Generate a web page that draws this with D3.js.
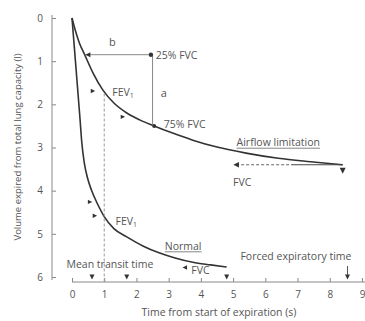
<!DOCTYPE html>
<html>
<head>
<meta charset="utf-8">
<script src="https://cdn.jsdelivr.net/npm/d3@7"></script>
<style>
  body { margin: 0; background: #fff; }
  svg text { font-family: "Open Sans", sans-serif; fill: #555; }
</style>
</head>
<body>
<div id="chart"></div>
<script>
// Axis ticks
const xTicks = [0, 1, 2, 3, 4, 5, 6, 7, 8, 9];
const yTicks = [0, 1, 2, 3, 4, 5, 6];

// Normal spirogram (time s, volume l)
const normalT = [0, 0.08, 0.16, 0.25, 0.3, 0.38, 0.48, 0.6, 0.8, 1.0, 1.3, 1.7, 2.2, 2.7, 3.2, 3.75, 4.3, 4.8];
const normalV = [0, 0.75, 1.5, 2.35, 2.85, 3.35, 3.7, 3.98, 4.32, 4.6, 4.88, 5.07, 5.28, 5.44, 5.56, 5.66, 5.72, 5.77];

// Airflow limitation spirogram
const airflowT = [0, 0.1, 0.22, 0.4, 0.65, 0.96, 1.3, 1.7, 2.1, 2.55, 3.1, 3.75, 4.5, 5.4, 6.4, 7.4, 8.4];
const airflowV = [0, 0.28, 0.56, 0.86, 1.27, 1.67, 1.97, 2.2, 2.36, 2.5, 2.66, 2.83, 2.99, 3.13, 3.25, 3.33, 3.40];

// Small marker arrows along the curves
const markerT = [0.65, 1.58, 0.56, 0.71];
const markerV = [1.69, 2.29, 4.26, 4.58];

// Markers on the time axis (mean transit times, normal FVC end, forced expiratory time)
const axisMarkT = [0.62, 1.7, 4.8, 8.55];

const width = 365, height = 321;
const svg = d3.select("#chart").append("svg")
    .attr("width", width)
    .attr("height", height);

const x = d3.scaleLinear().domain([0, 9]).range([72, 362]);
const y = d3.scaleLinear().domain([0, 6]).range([18, 277]);
const xAxisY = 282, yAxisX = 52;

// Y axis
svg.append("line")
    .attr("x1", yAxisX).attr("x2", yAxisX)
    .attr("y1", 15).attr("y2", 280)
    .attr("stroke", "#888").attr("stroke-width", 1);
const yAxis = svg.append("g")
    .attr("transform", `translate(${yAxisX},0)`)
    .call(d3.axisLeft(y).tickValues(yTicks).tickFormat(d3.format("d"))
        .tickSize(-4).tickPadding(9).tickSizeOuter(0));
yAxis.select(".domain").remove();
yAxis.selectAll("line").attr("stroke", "#888");
yAxis.selectAll("text").style("font-size", "10px").attr("fill", "#555");

// X axis
svg.append("line")
    .attr("x1", 72).attr("x2", 365)
    .attr("y1", xAxisY).attr("y2", xAxisY)
    .attr("stroke", "#888").attr("stroke-width", 1);
const xAxis = svg.append("g")
    .attr("transform", `translate(0,${xAxisY})`)
    .call(d3.axisBottom(x).tickValues(xTicks).tickFormat(d3.format("d"))
        .tickSize(-4).tickPadding(9).tickSizeOuter(0));
xAxis.select(".domain").remove();
xAxis.selectAll("line").attr("stroke", "#888");
xAxis.selectAll("text").style("font-size", "10px").attr("fill", "#555");

// Axis titles
svg.append("text")
    .attr("x", 219).attr("y", 316)
    .attr("text-anchor", "middle")
    .style("font-size", "10.5px")
    .text("Time from start of expiration (s)");

svg.append("text")
    .attr("transform", "translate(21,147) rotate(-90)")
    .attr("text-anchor", "middle")
    .style("font-size", "9.5px")
    .text("Volume expired from total lung capacity (l)");

// Curves
const line = d3.line()
    .x(d => x(d[0]))
    .y(d => y(d[1]))
    .curve(d3.curveMonotoneX);

svg.append("path")
    .datum(normalT.map((t, i) => [t, normalV[i]]))
    .attr("d", line)
    .attr("fill", "none").attr("stroke", "#333").attr("stroke-width", 1.6);

svg.append("path")
    .datum(airflowT.map((t, i) => [t, airflowV[i]]))
    .attr("d", line)
    .attr("fill", "none").attr("stroke", "#333").attr("stroke-width", 1.6);

// Dashed FEV1 line at 1 s
svg.append("line")
    .attr("x1", x(1)).attr("x2", x(1))
    .attr("y1", y(1.75)).attr("y2", xAxisY)
    .attr("stroke", "#999").attr("stroke-width", 1)
    .attr("stroke-dasharray", "3,2");

// Triangle helper
const tri = (cx, cy, dir, s) => {
    const pts = {
        right: [[cx + s, cy], [cx - s, cy - s], [cx - s, cy + s]],
        left: [[cx - s, cy], [cx + s, cy - s], [cx + s, cy + s]],
        down: [[cx, cy + s], [cx - s, cy - s], [cx + s, cy - s]]
    }[dir];
    svg.append("path")
        .attr("d", "M" + pts.map(p => p.join(",")).join("L") + "Z")
        .attr("fill", "#333");
};

markerT.forEach((t, i) => tri(x(t), y(markerV[i]), "right", 2.2));
axisMarkT.forEach(t => tri(x(t), xAxisY - 5, "down", 2.5));

// Forced expiratory time arrow stem
svg.append("line")
    .attr("x1", x(8.55)).attr("x2", x(8.55))
    .attr("y1", xAxisY - 16).attr("y2", xAxisY - 7)
    .attr("stroke", "#555").attr("stroke-width", 1);

// b: 25% FVC horizontal, a: vertical to 75% FVC
svg.append("line")
    .attr("x1", x(0.4)).attr("x2", x(2.45))
    .attr("y1", y(0.85)).attr("y2", y(0.85))
    .attr("stroke", "#888").attr("stroke-width", 1);
tri(x(0.4) + 3, y(0.85), "left", 2.5);
svg.append("line")
    .attr("x1", x(2.5)).attr("x2", x(2.5))
    .attr("y1", y(0.85)).attr("y2", y(2.5))
    .attr("stroke", "#888").attr("stroke-width", 1);
svg.append("circle").attr("cx", x(2.45)).attr("cy", y(0.85)).attr("r", 2.2).attr("fill", "#333");
svg.append("circle").attr("cx", x(2.55)).attr("cy", y(2.5)).attr("r", 2).attr("fill", "#333");

// Airflow FVC dashed line
svg.append("line")
    .attr("x1", x(5.0) + 3).attr("x2", x(6.8))
    .attr("y1", y(3.4)).attr("y2", y(3.4))
    .attr("stroke", "#666").attr("stroke-width", 1)
    .attr("stroke-dasharray", "3,2");
svg.append("line")
    .attr("x1", x(6.8)).attr("x2", x(8.4))
    .attr("y1", y(3.4)).attr("y2", y(3.4))
    .attr("stroke", "#444").attr("stroke-width", 1.2);
tri(x(5.0) + 3, y(3.4), "left", 2.8);
tri(x(8.4), y(3.4) + 6, "down", 3);

// Normal FVC arrow
tri(x(3.5), y(5.78), "left", 2.3);

// Labels
const label = (t, v, txt, size, anchor) => svg.append("text")
    .attr("x", x(t)).attr("y", y(v))
    .attr("text-anchor", anchor || "start")
    .style("font-size", size + "px")
    .text(txt);

label(1.25, 0.65, "b", 11, "middle");
label(2.85, 1.82, "a", 11, "middle");
label(2.6, 0.94, "25% FVC", 10.5, "start");
label(2.85, 2.55, "75% FVC", 10.5, "start");
label(5.0, 3.9, "FVC", 10.5, "start");
label(3.7, 5.94, "FVC", 10.5, "start");
label(-0.17, 5.78, "Mean transit time", 10.5, "start");
label(6.95, 5.6, "Forced expiratory time", 10.5, "middle");

const fev = (t, v) => {
    const tx = svg.append("text")
        .attr("x", x(t)).attr("y", y(v))
        .style("font-size", "10.5px");
    tx.append("tspan").text("FEV");
    tx.append("tspan").attr("dy", 2).style("font-size", "7px").text("1");
};
fev(1.25, 1.8);
fev(1.35, 4.8);

const under = (t, v, txt) => {
    const tx = label(t, v, txt, 10.5, "middle");
    const w = tx.node().getComputedTextLength();
    svg.append("line")
        .attr("x1", x(t) - w / 2).attr("x2", x(t) + w / 2)
        .attr("y1", y(v) + 2).attr("y2", y(v) + 2)
        .attr("stroke", "#666").attr("stroke-width", 0.8);
};
under(3.45, 5.37, "Normal");
under(6.4, 2.97, "Airflow limitation");
</script>
</body>
</html>
